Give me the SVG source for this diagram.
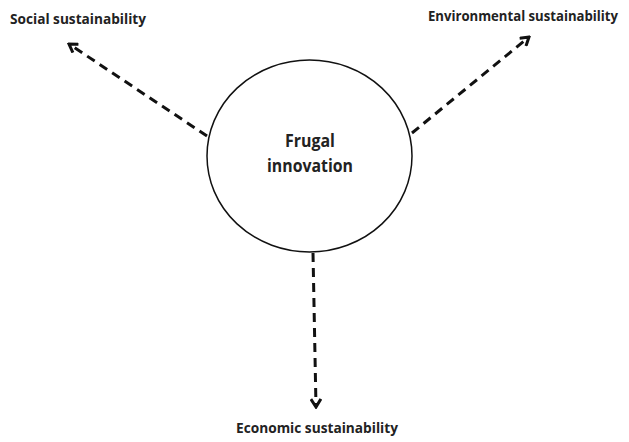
<svg xmlns="http://www.w3.org/2000/svg" width="629" height="442" viewBox="0 0 629 442">
<style>
.lbl{font-family:"Open Sans","Liberation Sans",sans-serif;font-weight:bold;font-size:14px;fill:#222}
.ctr{font-family:"Open Sans","Liberation Sans",sans-serif;font-weight:bold;font-size:17px;fill:#222}
.conn{stroke:#111;stroke-width:3;stroke-dasharray:9 6;fill:none}
</style>
<defs>
<marker id="ah" viewBox="0 0 12 12" refX="10" refY="6" markerWidth="12" markerHeight="12" markerUnits="userSpaceOnUse" orient="auto">
<polyline points="2,1 10,6 2,11" fill="none" stroke="#111" stroke-width="3"/>
</marker>
</defs>
<g id="connectors">
<line class="conn" x1="207" y1="136" x2="69" y2="44" marker-end="url(#ah)"/>
<line class="conn" x1="412" y1="133" x2="529" y2="37" marker-end="url(#ah)"/>
<line class="conn" x1="313" y1="253" x2="316" y2="407" marker-end="url(#ah)"/>
</g>
<g id="frugal">
<ellipse cx="309.5" cy="156" rx="102.5" ry="96" fill="#fff" stroke="#111" stroke-width="1.5"/>
<text class="ctr" x="310" y="147" text-anchor="middle" textLength="50" lengthAdjust="spacingAndGlyphs">Frugal</text>
<text class="ctr" x="310" y="172" text-anchor="middle" textLength="86" lengthAdjust="spacingAndGlyphs">innovation</text>
</g>
<g id="social"><text class="lbl" x="10" y="24" textLength="136" lengthAdjust="spacingAndGlyphs">Social sustainability</text></g>
<g id="environmental"><text class="lbl" x="428" y="21" textLength="190" lengthAdjust="spacingAndGlyphs">Environmental sustainability</text></g>
<g id="economic"><text class="lbl" x="236" y="433" textLength="162" lengthAdjust="spacingAndGlyphs">Economic sustainability</text></g>
</svg>
